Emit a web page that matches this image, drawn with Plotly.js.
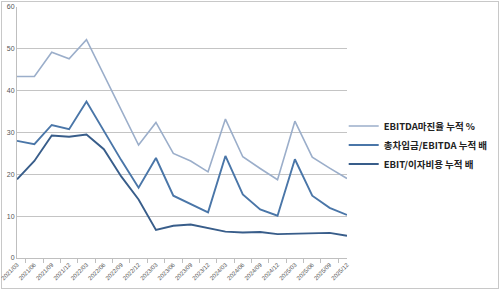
<!DOCTYPE html>
<html>
<head>
<meta charset="utf-8">
<script src="https://cdn.plot.ly/plotly-3.0.1.min.js"></script>
<style>
html,body{margin:0;padding:0;background:#fff;}
#frame{position:absolute;left:1px;top:1px;width:496px;height:286px;border:1px solid #c8c8c8;}
#chart{position:absolute;left:0;top:0;width:500px;height:290px;}
</style>
</head>
<body>
<div id="frame"></div>
<div id="chart"></div>
<script>
const categories = ["2021/03","2021/06","2021/09","2021/12","2022/03","2022/06","2022/09","2022/12",
  "2023/03","2023/06","2023/09","2023/12","2024/03","2024/06","2024/09","2024/12",
  "2025/03","2025/06","2025/09","2025/12"];
const ebitdaMargin = [43.4,43.4,49.2,47.6,52.2,43.8,35.3,27.0,32.4,25.0,23.2,20.6,33.2,24.2,21.4,18.7,32.7,24.1,21.5,19.0];
const debtToEbitda = [28.0,27.2,31.8,30.8,37.4,30.4,23.4,16.8,23.9,14.9,12.9,10.9,24.4,15.2,11.6,10.1,23.6,14.9,12.0,10.3];
const ebitToInterest = [18.8,23.2,29.3,29.0,29.5,26.0,19.5,14.0,6.7,7.7,8.0,7.1,6.3,6.1,6.2,5.7,5.8,6.0,6.0,5.3];
const seriesNames = ["EBITDA마진율 누적 %","총차입금/EBITDA 누적 배","EBIT/이자비용 누적 배"];
const yTicks = [0,10,20,30,40,50,60];

const colors = ["#9BAECA","#4A76A8","#385D8A"];
const widths = [1.6,1.9,1.9];
const values = [ebitdaMargin, debtToEbitda, ebitToInterest];

const traces = values.map((v,i)=>({
  type:"scatter", mode:"lines", x:categories, y:v, name:seriesNames[i],
  line:{color:colors[i], width:widths[i]}, hoverinfo:"skip"
}));

const layout = {
  width:500, height:290,
  margin:{l:17, r:147, t:7, b:32},
  paper_bgcolor:"rgba(0,0,0,0)", plot_bgcolor:"rgba(0,0,0,0)",
  showlegend:true,
  legend:{x:0.99, xanchor:"left", y:0.45, yanchor:"middle",
    font:{family:"Noto Sans CJK KR", size:9.5, color:"#222", weight:"bold"},
    bgcolor:"rgba(0,0,0,0)", itemwidth:30, tracegroupgap:0},
  xaxis:{type:"category", tickangle:-45, tickson:"boundaries", ticks:"outside", ticklen:4,
    tickcolor:"#bfbfbf", showline:true, linecolor:"#bfbfbf", linewidth:1, showgrid:false,
    tickfont:{family:"Liberation Sans", size:6, color:"#555"}, fixedrange:true, zeroline:false},
  yaxis:{range:[0,60], tickvals:yTicks, ticktext:yTicks.map(String), showline:true, linecolor:"#bfbfbf",
    gridcolor:"#c4c4c4", gridwidth:1, zeroline:false, ticks:"",
    tickfont:{family:"Liberation Sans", size:7, color:"#555"}, fixedrange:true},
  font:{family:"Liberation Sans"}
};

Plotly.newPlot("chart", traces, layout, {displayModeBar:false, staticPlot:true});
</script>
</body>
</html>
